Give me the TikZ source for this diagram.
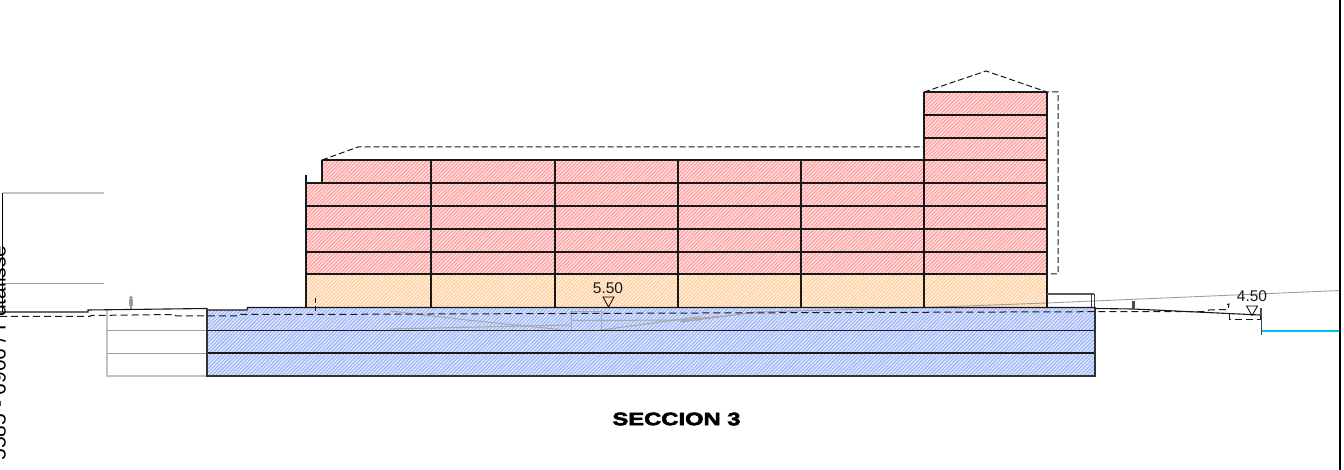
\documentclass[tikz,border=0pt]{standalone}
\usepackage{fontspec}
\setmainfont{Liberation Sans}
\newfontfamily\titlefont[FakeBold=3,FakeStretch=1.32]{Liberation Sans Bold}
\usetikzlibrary{patterns.meta}
\definecolor{pinkbase}{HTML}{FFDEDE}
\definecolor{pinkline}{HTML}{FF9898}
\definecolor{orbase}{HTML}{FFF0E0}
\definecolor{orline}{HTML}{FFCA94}
\definecolor{blbase}{HTML}{DEE6FF}
\definecolor{blline}{HTML}{98B0F5}
\definecolor{cyanline}{HTML}{00BFF3}
\tikzset{
  hatchlines/.style={pattern={Lines[angle=45,distance=2.6pt,line width=0.95pt]}},
  pinkfill/.style={hatchlines,pattern color=pinkline},
  orfill/.style={hatchlines,pattern color=orline},
  blfill/.style={hatchlines,pattern color=blline},
  floorline/.style={draw=black!90,line width=1.1pt},
  dashline/.style={draw=black!90,line width=1pt,dash pattern=on 7pt off 4pt},
  sitegrey/.style={draw=black!38,line width=0.9pt},
  sitefaint/.style={draw=black!24,line width=1.2pt},
  interiorgrey/.style={draw=black!34,line width=1pt},
  levelmark/.style={draw=black,line width=0.8pt},
  leveltext/.style={font=\fontsize{15.5}{17}\selectfont,inner sep=0pt,text=black!90},
  titletext/.style={font=\titlefont\fontsize{18}{20}\selectfont,inner sep=0pt},
}
\begin{document}
\begin{tikzpicture}[x=1pt,y=-1pt]
\useasboundingbox (0,0) rectangle (1344,470);
% hatched fills
\fill[pinkbase] (322,160) rectangle (924,183);
\fill[pinkfill] (322,160) rectangle (924,183);
\fill[pinkbase] (306,183) rectangle (924,274);
\fill[pinkfill] (306,183) rectangle (924,274);
\fill[pinkbase] (924,92) rectangle (1047,274);
\fill[pinkfill] (924,92) rectangle (1047,274);
\fill[orbase] (306,274) rectangle (1047,307.5);
\fill[orfill] (306,274) rectangle (1047,307.5);
\fill[blbase] (207,310) -- (248,310) -- (248,307.5) -- (1095,307.5) -- (1095,376) -- (207,376) -- cycle;
\fill[blfill] (207,310) -- (248,310) -- (248,307.5) -- (1095,307.5) -- (1095,376) -- (207,376) -- cycle;
% faint site lines
\draw[sitefaint] (3,193) -- (104,193);
\draw[sitegrey] (3,283.5) -- (104,283.5);
\draw[sitefaint] (107,310) -- (107,376) -- (207,376);
\draw[sitegrey] (107,330.5) -- (207,330.5);
\draw[sitegrey] (107,353) -- (207,353);
\draw[sitegrey] (1340,290.5) -- (1047,303) -- (924,307.5) -- (757,312) -- (680,322);
\draw[interiorgrey] (723,316) -- (680,320);
\draw[interiorgrey] (390,311) -- (467,320) -- (560,329.5);
\draw[interiorgrey] (390,329) -- (570,325);
\draw[interiorgrey] (571,330) -- (571,312) -- (601,312) -- (601,330);
\draw[interiorgrey] (571,320.5) -- (700,320);
\draw[interiorgrey] (601,330) -- (700,316.7);
% person
\fill[black!40] (131,297.5) circle (1.8);
\fill[black!40] (129,299) rectangle (133,306);
\fill[black!40] (130,306) rectangle (132,310);
% floors
\foreach \yy in {183,206,229,252,274} {\draw[floorline] (306,\yy) -- (1047,\yy);}
\draw[floorline] (322,160) -- (1047,160);
\foreach \yy in {92,115,138} {\draw[floorline] (924,\yy) -- (1047,\yy);}
\foreach \xx in {431,555,678,801} {\draw[floorline] (\xx,160) -- (\xx,307.5);}
\draw[floorline] (924,92) -- (924,307.5);
\draw[floorline] (1047,92) -- (1047,307.5);
\draw[floorline] (306,175) -- (306,307.5);
\draw[floorline] (322,160) -- (322,183);
% blue block
\draw[floorline] (207,330.5) -- (1095,330.5);
\draw[floorline] (207,353) -- (1095,353);
\draw[draw=black!80,line width=1.5pt] (207,310) -- (207,376) -- (1095,376) -- (1095,307.5);
% small structure right of tower
\draw[draw=black!65,line width=1.3pt] (1047,294) -- (1094,294);
\draw[draw=black!75,line width=1pt] (1091,294) -- (1091,308) (1094,294) -- (1094,308);
% ground solid
\draw[floorline] (0,312) -- (88,312) -- (88,310) -- (207,308.5) -- (207,310) -- (247,310) -- (247.5,307.5) -- (1095,307.5);
\draw[floorline] (1095,308.5) -- (1133,309) -- (1260,315);
\fill[black!70] (1132,301) rectangle (1135,309);
\fill[black!70] (1259.5,308) rectangle (1262,320);
\draw[draw=black!75,line width=1pt] (1261.5,320) -- (1261.5,335);
\draw[draw=cyanline,line width=1.3pt] (1262,331) -- (1340,331);
% dashed lines
\draw[dashline] (0,316.5) -- (90,316.5) -- (91,315.5) -- (175,314.5) -- (176,316) -- (237,316) -- (240,314.5) -- (350,314.3) -- (700,313) -- (1095,311.7) -- (1207,311.7) -- (1209,310) -- (1228,309.5) -- (1229,304) -- (1227,304.5);
\draw[dashline] (1229,314) -- (1229,319.5) -- (1260,319.5) -- (1260,316);
\draw[dashline,dash pattern=on 5pt off 3pt] (315,298) -- (315,314);
\draw[dashline,dash pattern=on 6pt off 3pt] (322,160) -- (358,147) -- (924,147);
\draw[dashline,dash pattern=on 6pt off 3pt] (924,92) -- (986,71) -- (1047,92) -- (1058,92) -- (1058,274) -- (1047,274);
% frame and left edge
\draw[draw=black,line width=1.6pt] (1340,0) -- (1340,470);
\draw[draw=black,line width=1.2pt] (2.5,193) -- (2.5,312);
% level marks
\draw[levelmark] (603,297) -- (614,297) -- (608.5,307) -- cycle;
\node[leveltext] (lvlA) at (608,288) {5.50};
\draw[levelmark] (1246.5,306) -- (1257.5,306) -- (1252,315.5) -- cycle;
\node[leveltext] (lvlB) at (1252,296.5) {4.50};
% title
\node[titletext] (title) at (676.5,419) {SECCION 3};
% clipped vertical text at the left edge
\begin{scope}
\clip (0,0) rectangle (12,470);
\node[font=\fontsize{21}{22}\selectfont,rotate=90,inner sep=0pt,anchor=south] (side) at (6,353) {5585 - 6906 / Pdtalisse};
\end{scope}
\end{tikzpicture}
\end{document}
